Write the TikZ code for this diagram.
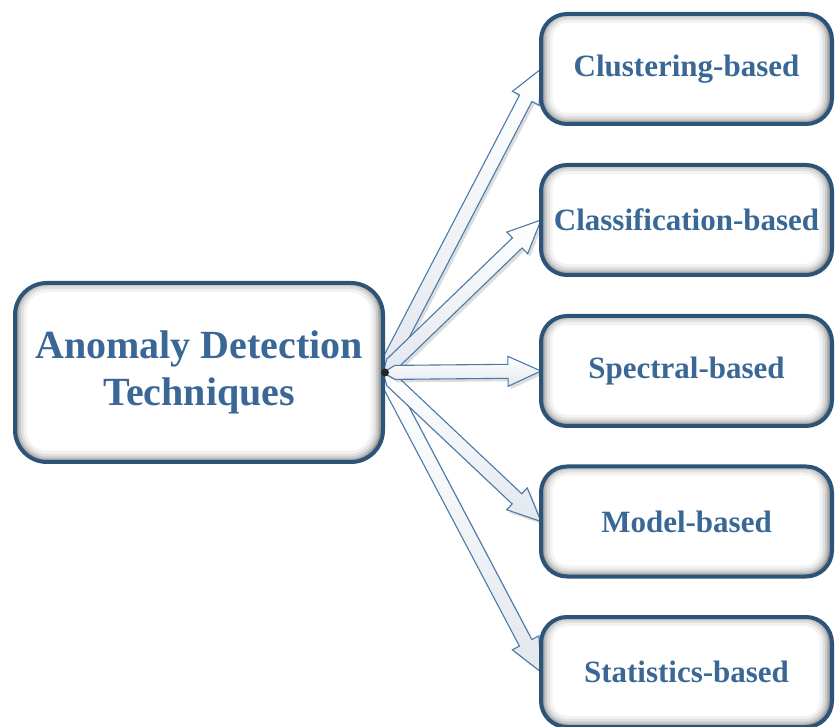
\documentclass[tikz,border=0pt]{standalone}
\usepackage{fontspec}
\setmainfont{Liberation Serif}
\usetikzlibrary{calc,shadows}

\definecolor{boxline}{HTML}{2C5479}
\definecolor{txtblue}{HTML}{3A6896}
\definecolor{arrline}{HTML}{4C79A6}
\definecolor{arrfill}{HTML}{E3E8EF}

\tikzset{
  innershade/.style={path picture={
    \foreach \w/\o in {22/0.05,16/0.07,11/0.09,7/0.12,4/0.16}{
      \draw[line width=\w pt, black, opacity=\o, rounded corners=#1]
        ([shift={(0.5pt,0pt)}]path picture bounding box.south west) rectangle
        ([shift={(-1.5pt,2pt)}]path picture bounding box.north east);
    }}},
  basebox/.style={draw=boxline, line width=4pt, fill=white, text=txtblue,
    align=center, inner sep=0pt},
  techbox/.style={basebox, rounded corners=26pt, innershade=26pt,
    minimum width=291pt, minimum height=110pt,
    font=\bfseries\fontsize{31}{36}\selectfont},
  rootbox/.style={basebox, rounded corners=32pt, innershade=32pt,
    minimum width=368pt, minimum height=179pt,
    font=\bfseries\fontsize{40}{47}\selectfont},
  blockarrow/.style={draw=arrline, line width=1.1pt, line join=miter,
    top color=white, bottom color=arrfill,
    drop shadow={shadow xshift=2.5pt, shadow yshift=-3pt, opacity=0.22, fill=black!60}},
}

% block arrow with a pointed tail, from #1 to #2
\newcommand{\blockarrow}[2]{%
  \coordinate (ta) at ($(#1)!12pt!(#2)$);
  \coordinate (hb) at ($(#2)!33pt!(#1)$);
  \path[blockarrow] (#1)
    -- ($(ta)!7pt!90:(#2)$) -- ($(hb)!7pt!90:(#2)$) -- ($(hb)!15pt!90:(#2)$)
    -- (#2)
    -- ($(hb)!15pt!-90:(#2)$) -- ($(hb)!7pt!-90:(#2)$) -- ($(ta)!7pt!-90:(#2)$)
    -- cycle;}

\begin{document}
\begin{tikzpicture}[x=1pt,y=1pt]
  \useasboundingbox (0,0) rectangle (835,726);

  % node placement (drawn later, on top of the arrows)
  \path (199,353.5) coordinate (mainc);
  \path (686.5,657) coordinate (c1) (686.5,506) coordinate (c2)
        (686.5,355) coordinate (c3) (686.5,204.5) coordinate (c4)
        (686.5,54) coordinate (c5);

  % anchor points of the connectors
  \coordinate (src) at ($(mainc)+(184,0)$);
  \foreach \i in {1,...,5}{\coordinate (t\i) at ($(c\i)+(-145.5,0)$);}

  \blockarrow{src}{t1}
  \blockarrow{src}{t5}
  \blockarrow{src}{t2}
  \blockarrow{src}{t4}
  \blockarrow{src}{t3}

  \node[rootbox] (main) at (mainc) {Anomaly Detection\\Techniques};
  \node[techbox] (b1) at (c1) {Clustering-based};
  \node[techbox] (b2) at (c2) {Classification-based};
  \node[techbox] (b3) at (c3) {Spectral-based};
  \node[techbox] (b4) at (c4) {Model-based};
  \node[techbox] (b5) at (c5) {Statistics-based};

  \fill[black!85] (main.east) circle (4pt);
\end{tikzpicture}
\end{document}
